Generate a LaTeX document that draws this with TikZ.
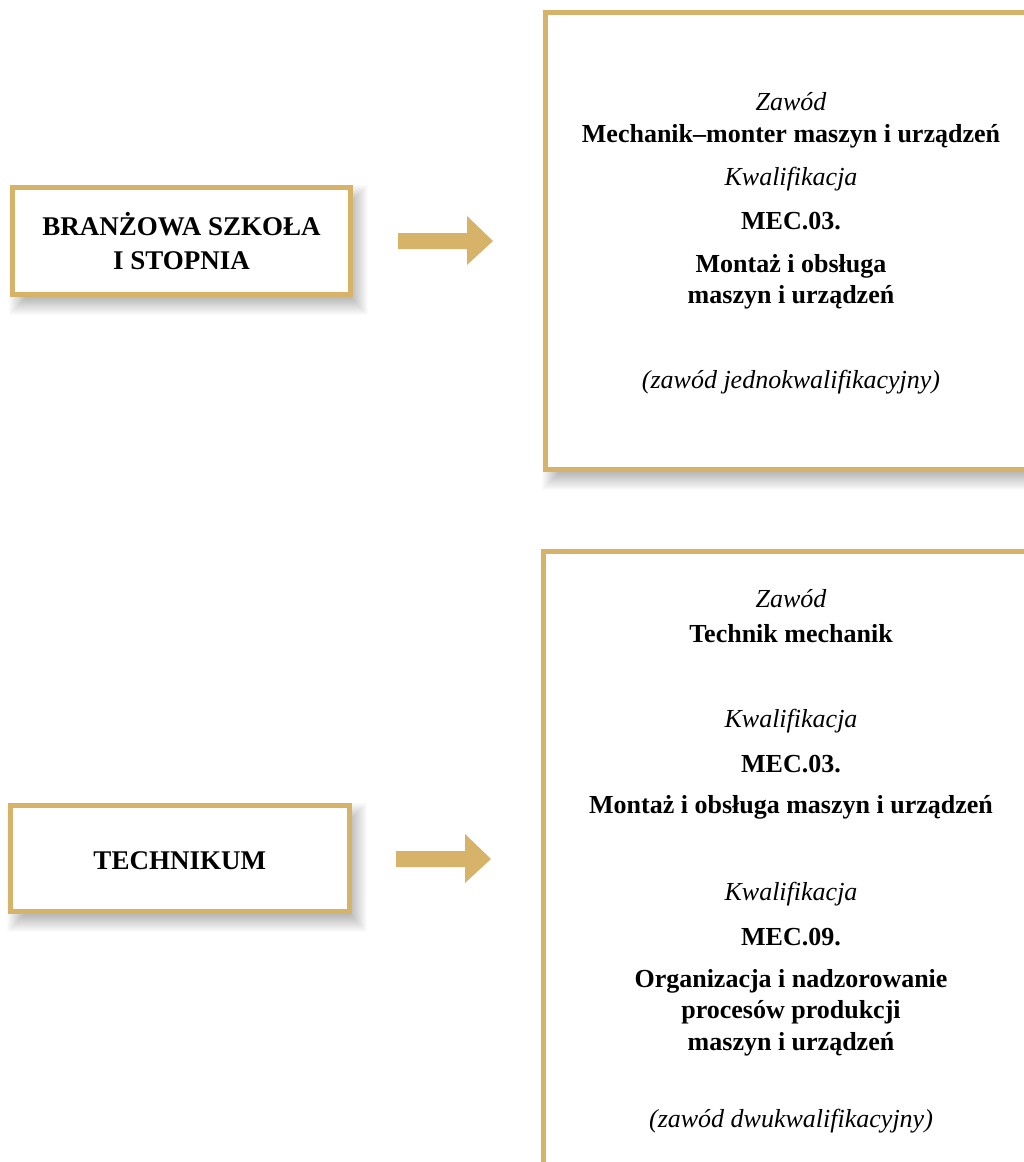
\documentclass[tikz,border=0pt]{standalone}
\usepackage{fontspec}
\setmainfont{Liberation Serif}
\usetikzlibrary{calc}
\definecolor{gold}{RGB}{215,179,106}
\pgfdeclarelayer{background}
\pgfsetlayers{background,main}
\begin{document}
\begin{tikzpicture}[x=1pt,y=-1pt,
  frame/.style={draw=gold, line width=5pt, fill=white, inner sep=0pt},
  shadowpiece/.style={fill=black, opacity=0.017},
  txt/.style={anchor=base, inner sep=0pt},
  bt/.style={txt, font=\fontsize{26}{32}\selectfont\bfseries},
  lt/.style={txt, font=\fontsize{27}{32}\selectfont\bfseries},
  it/.style={txt, font=\fontsize{26}{32}\selectfont\itshape},
  arrowfill/.style={fill=gold}]
\useasboundingbox (0,0) rectangle (1024,1162);
\clip (0,0) rectangle (1024,1162);

% boxes
\node[frame, minimum width=338pt, minimum height=107pt] (b1) at (181.5,241) {};
\node[frame, minimum width=338.5pt, minimum height=106pt] (b3) at (179.75,858.5) {};
\node[frame, minimum width=495pt, minimum height=456.5pt] (b2) at (792.5,240.75) {};
\node[frame, minimum width=497pt, minimum height=628.5pt] (b4) at (791.5,865.75) {};

\begin{pgfonlayer}{background}
\fill[white] (0,0) rectangle (1024,1162);
\foreach \b in {b1,b2,b3,b4}{
  \foreach \r in {-8,...,9}{
    \fill[shadowpiece] ($(\b.north west)+(8-\r,9-\r)$) rectangle ($(\b.south east)+(6+\r,9+\r)$);
  }
}
\end{pgfonlayer}

% arrows
\coordinate (a1s) at (398,241);
\coordinate (a1e) at (493,241);
\coordinate (a2s) at (396,859);
\coordinate (a2e) at (491,859);
\fill[arrowfill] (a1s) ++(0,-8) -- ++(69,0) -- ++(0,-17) -- (a1e) -- ++(-26,24) -- ++(0,-16) -- ++(-69,0) -- cycle;
\fill[arrowfill] (a2s) ++(0,-8) -- ++(69,0) -- ++(0,-17) -- (a2e) -- ++(-26,24) -- ++(0,-16) -- ++(-69,0) -- cycle;

% left texts
\node[lt] (t1a) at (181.5,235) {BRANŻOWA SZKOŁA};
\node[lt] (t1b) at (181.5,269) {I STOPNIA};
\node[lt] (t3a) at (179.75,869) {TECHNIKUM};

% right top texts
\node[it] (r1) at (791,110) {Zawód};
\node[bt] (r2) at (791,142) {Mechanik–monter maszyn i urządzeń};
\node[it] (r3) at (791,185) {Kwalifikacja};
\node[bt] (r4) at (791,229) {MEC.03.};
\node[bt] (r5) at (791,272) {Montaż i obsługa};
\node[bt] (r6) at (791,303) {maszyn i urządzeń};
\node[it] (r7) at (791,388) {(zawód jednokwalifikacyjny)};

% right bottom texts
\node[it] (s1) at (791,607) {Zawód};
\node[bt] (s2) at (791,642) {Technik mechanik};
\node[it] (s3) at (791,727) {Kwalifikacja};
\node[bt] (s4) at (791,772) {MEC.03.};
\node[bt] (s5) at (791,813) {Montaż i obsługa maszyn i urządzeń};
\node[it] (s6) at (791,900) {Kwalifikacja};
\node[bt] (s7) at (791,945) {MEC.09.};
\node[bt] (s8) at (791,987) {Organizacja i nadzorowanie};
\node[bt] (s9) at (791,1018) {procesów produkcji};
\node[bt] (s10) at (791,1050) {maszyn i urządzeń};
\node[it] (s11) at (791,1127) {(zawód dwukwalifikacyjny)};
\end{tikzpicture}
\end{document}
